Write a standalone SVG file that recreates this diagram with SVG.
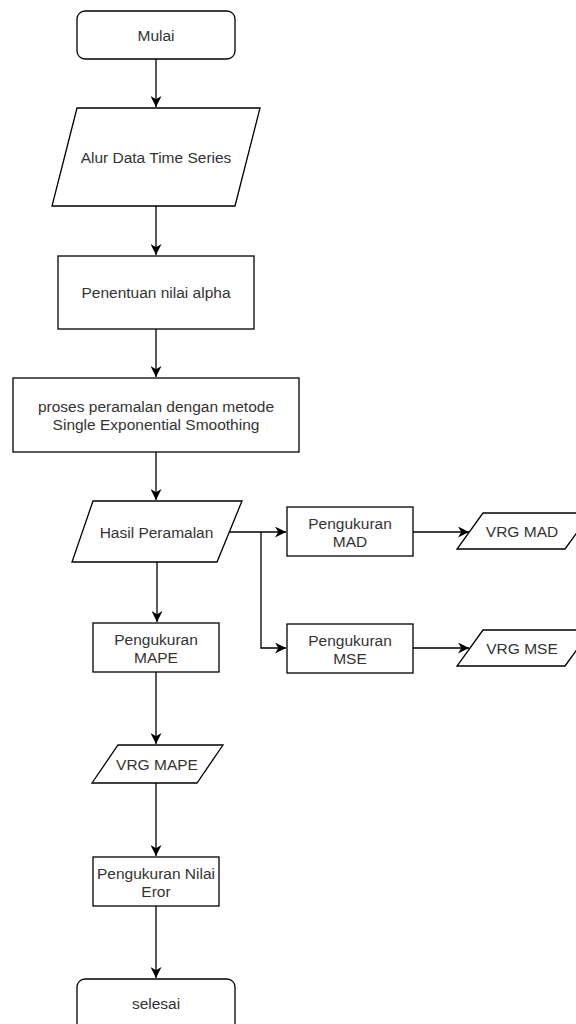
<svg xmlns="http://www.w3.org/2000/svg" width="576" height="1024" viewBox="0 0 576 1024">
<style>
.s{fill:#fff;stroke:#000;stroke-width:1.3}
.t{font-family:"Liberation Sans",Arial,sans-serif;font-size:15.5px;fill:#333;text-anchor:middle}
.c{fill:none;stroke:#000;stroke-width:1.3}
</style>
<defs>
<marker id="ah" viewBox="0 0 10 10" refX="10" refY="5" markerWidth="11" markerHeight="11" markerUnits="userSpaceOnUse" orient="auto">
<path d="M0,0 L10,5 L0,10 L3,5 z" fill="#000"/>
</marker>
</defs>
<rect width="576" height="1024" fill="#fff"/>
<g id="connectors">
<path class="c" d="M156,59 L156,107" marker-end="url(#ah)"/>
<path class="c" d="M156,206 L156,255" marker-end="url(#ah)"/>
<path class="c" d="M156,329 L156,377" marker-end="url(#ah)"/>
<path class="c" d="M156,452 L156,500" marker-end="url(#ah)"/>
<path class="c" d="M157,562 L157,622" marker-end="url(#ah)"/>
<path class="c" d="M156,672 L156,744" marker-end="url(#ah)"/>
<path class="c" d="M156,783 L156,856" marker-end="url(#ah)"/>
<path class="c" d="M156,906 L156,978" marker-end="url(#ah)"/>
<path class="c" d="M229,532 L286,532" marker-end="url(#ah)"/>
<path class="c" d="M261,532 L261,648 L286,648" marker-end="url(#ah)"/>
<path class="c" d="M413,532 L469,532" marker-end="url(#ah)"/>
<path class="c" d="M413,648 L469,648" marker-end="url(#ah)"/>
</g>
<g id="mulai">
<rect class="s" x="77" y="11" width="158" height="48" rx="8"/>
<text class="t" x="156" y="40.5">Mulai</text>
</g>
<g id="alur">
<polygon class="s" points="77,108 260,108 235,206 52,206"/>
<text class="t" x="156" y="162.5">Alur Data Time Series</text>
</g>
<g id="penentuan">
<rect class="s" x="58" y="256" width="196" height="73"/>
<text class="t" x="156" y="297.5">Penentuan nilai alpha</text>
</g>
<g id="proses">
<rect class="s" x="13" y="378" width="286" height="74"/>
<text class="t" x="156" y="411.5">proses peramalan dengan metode</text>
<text class="t" x="156" y="429.5">Single Exponential Smoothing</text>
</g>
<g id="hasil">
<polygon class="s" points="93,501 242,501 217,562 72,562"/>
<text class="t" x="156.5" y="537.5">Hasil Peramalan</text>
</g>
<g id="mad">
<rect class="s" x="287" y="507" width="126" height="49"/>
<text class="t" x="350" y="528.5">Pengukuran</text>
<text class="t" x="350" y="546.5">MAD</text>
</g>
<g id="mse">
<rect class="s" x="287" y="624" width="126" height="49"/>
<text class="t" x="350" y="645.5">Pengukuran</text>
<text class="t" x="350" y="663.5">MSE</text>
</g>
<g id="vrgmad">
<polygon class="s" points="483,513 591,513 565,549 457,549"/>
<text class="t" x="522" y="536.5">VRG MAD</text>
</g>
<g id="vrgmse">
<polygon class="s" points="483,630 591,630 565,666 457,666"/>
<text class="t" x="522" y="653.5">VRG MSE</text>
</g>
<g id="mape">
<rect class="s" x="93" y="623" width="126" height="49"/>
<text class="t" x="156" y="644.5">Pengukuran</text>
<text class="t" x="156" y="662.5">MAPE</text>
</g>
<g id="vrgmape">
<polygon class="s" points="118,745 223,745 197,783 92,783"/>
<text class="t" x="157" y="769.5">VRG MAPE</text>
</g>
<g id="eror">
<rect class="s" x="93" y="857" width="126" height="49"/>
<text class="t" x="156" y="878.5">Pengukuran Nilai</text>
<text class="t" x="156" y="896.5">Eror</text>
</g>
<g id="selesai">
<rect class="s" x="77" y="979" width="158" height="60" rx="8"/>
<text class="t" x="156" y="1008.5">selesai</text>
</g>
</svg>
